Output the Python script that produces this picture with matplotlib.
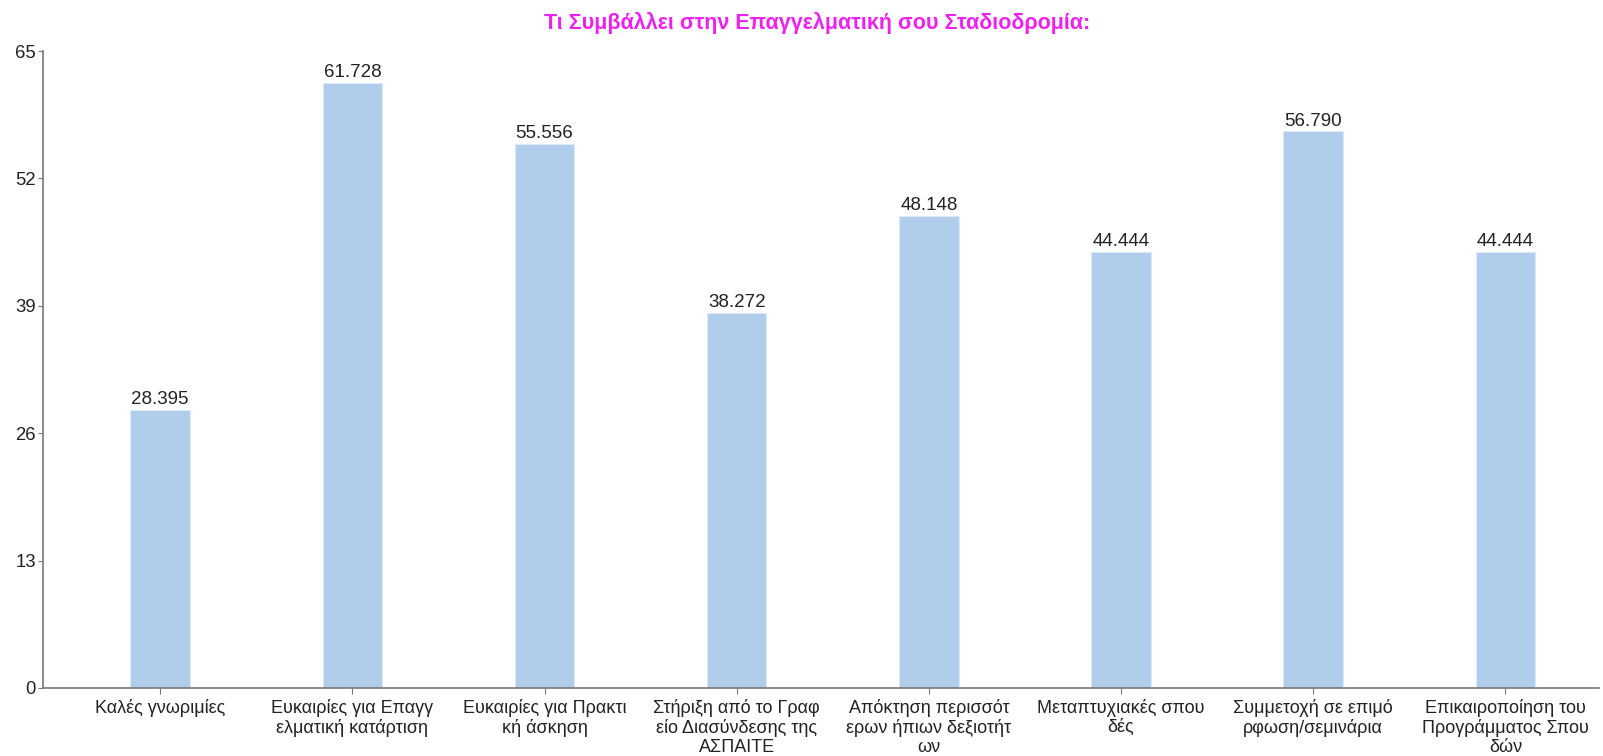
import numpy as np
import matplotlib.pyplot as plt

plt.rcParams['font.family'] = ['Liberation Sans', 'DejaVu Sans']

# --- дані ---
categories = [
    "Καλές γνωριμίες",
    "Ευκαιρίες για Επαγγ\nελματική κατάρτιση",
    "Ευκαιρίες για Πρακτι\nκή άσκηση",
    "Στήριξη από το Γραφ\nείο Διασύνδεσης της\nΑΣΠΑΙΤΕ",
    "Απόκτηση περισσότ\nερων ήπιων δεξιοτήτ\nων",
    "Μεταπτυχιακές σπου\nδές",
    "Συμμετοχή σε επιμό\nρφωση/σεμινάρια",
    "Επικαιροποίηση του\nΠρογράμματος Σπου\nδών",
]
values = [28.395, 61.728, 55.556, 38.272, 48.148, 44.444, 56.790, 44.444]
y_ticks = [0, 13, 26, 39, 52, 65]
title = "Τι Συμβάλλει στην Επαγγελματική σου Σταδιοδρομία:"

fig = plt.figure(figsize=(16.03, 7.56), dpi=100)
ax = fig.add_axes([0.0268, 0.090, 0.971, 0.8425])

x = np.arange(len(categories))
ax.bar(x, values, width=0.31, color='#b0cdec', edgecolor='#dde9f6', linewidth=0.8)
for xi, v in zip(x, values):
    ax.text(xi, v + 0.2, f"{v:.3f}", ha='center', va='bottom', fontsize=13.5, color='#222222')

ax.set_xlim(-0.61, 7.49)
ax.set_ylim(0, 65)
ax.set_yticks(y_ticks)
ax.set_xticks(x)
ax.set_xticklabels(categories, fontsize=13, color='#222222', linespacing=1.15)
ax.tick_params(axis='y', labelsize=13.3, colors='#222222', length=3.5, pad=1.5, color='#777777')
ax.tick_params(axis='x', length=4, color='#777777', pad=4)

for s in ['top', 'right']:
    ax.spines[s].set_visible(False)
for s in ['left', 'bottom']:
    ax.spines[s].set_color('#777777')
    ax.spines[s].set_linewidth(1.2)

fig.text(0.51, 0.970, title, ha='center', va='center', fontsize=15.5,
         fontweight='bold', color='#ee22ee')

fig.savefig('out.png', dpi=100)
